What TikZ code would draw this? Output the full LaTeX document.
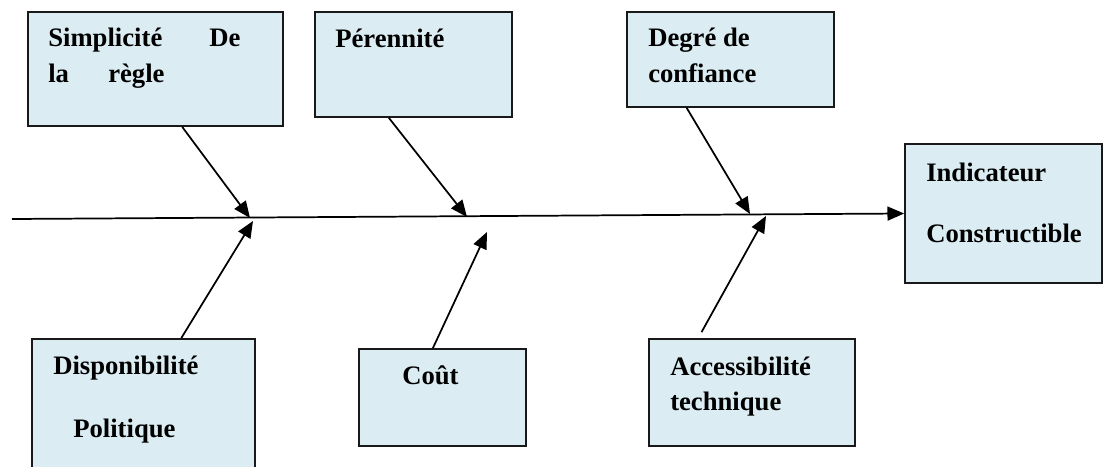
\documentclass[tikz,border=0pt]{standalone}
\usepackage{fontspec}
\setmainfont{Liberation Serif}
\usetikzlibrary{arrows.meta,calc,fit}
\definecolor{boxfill}{RGB}{219,237,243}
\definecolor{boxline}{RGB}{25,25,25}
\tikzset{
  box/.style={draw=boxline, fill=boxfill, line width=1.3pt, inner sep=0pt, rectangle},
  lbl/.style={anchor=base west, inner sep=0pt, font=\fontsize{20}{24}\selectfont\bfseries},
  arr/.style={line width=1.3pt, -{Triangle[length=12.5pt,width=10.5pt]}},
  plain/.style={line width=1.3pt}
}
\begin{document}
\begin{tikzpicture}[x=0.75pt,y=-0.75pt]
\useasboundingbox (0,0) rectangle (1109,467);
\clip (0,0) rectangle (1109,467);
% corner coordinates
\coordinate (c1a) at (28,12);   \coordinate (c1b) at (283,126);
\coordinate (c2a) at (315,12);  \coordinate (c2b) at (512,117);
\coordinate (c3a) at (627,12);  \coordinate (c3b) at (834,107);
\coordinate (c4a) at (905,144); \coordinate (c4b) at (1102,283);
\coordinate (c5a) at (32,339);  \coordinate (c5b) at (255,485);
\coordinate (c6a) at (359,349); \coordinate (c6b) at (526,446);
\coordinate (c7a) at (649,339); \coordinate (c7b) at (855,446);
% boxes
\node[box, fit=(c1a)(c1b)] (b1) {};
\node[box, fit=(c2a)(c2b)] (b2) {};
\node[box, fit=(c3a)(c3b)] (b3) {};
\node[box, fit=(c4a)(c4b)] (b4) {};
\node[box, fit=(c5a)(c5b)] (b5) {};
\node[box, fit=(c6a)(c6b)] (b6) {};
\node[box, fit=(c7a)(c7b)] (b7) {};
% texts
\node[lbl] (t1a) at (48,47) {Simplicité};
\node[lbl] (t1b) at (209,47) {De};
\node[lbl] (t1c) at (48,83) {la};
\node[lbl] (t1d) at (108,83) {règle};
\node[lbl] (t2) at (335,48) {Pérennité};
\node[lbl] (t3a) at (648,47) {Degré de};
\node[lbl] (t3b) at (648,83) {confiance};
\node[lbl] (t4a) at (926,181) {Indicateur};
\node[lbl] (t4b) at (926,242) {Constructible};
\node[lbl] (t5a) at (53,374) {Disponibilité};
\node[lbl] (t5b) at (73,437) {Politique};
\node[lbl] (t6) at (402,384) {Coût};
\node[lbl] (t7a) at (670,375) {Accessibilité};
\node[lbl] (t7b) at (670,410) {technique};
% spine
\coordinate (s0) at (12,219);
\draw[arr] (s0) -- (b4.west);
% arrow tips on spine
\coordinate (p1) at (250,218);
\coordinate (p2) at (467,217);
\coordinate (p3) at (750,214);
\coordinate (q1) at (253,221);
\coordinate (q2) at (487,232);
\coordinate (q3) at (766,216);
\draw[arr] ($(b1.south west)!0.604!(b1.south east)$) -- (p1);
\draw[arr] ($(b2.south west)!0.376!(b2.south east)$) -- (p2);
\draw[arr] ($(b3.south west)!0.29!(b3.south east)$) -- (p3);
\draw[arr] ($(b5.north west)!0.668!(b5.north east)$) -- (q1);
\draw[arr] ($(b6.north west)!0.443!(b6.north east)$) -- (q2);
\draw[arr] ($(b7.north west)!0.257!(b7.north east)+(0,-6)$) -- (q3);
\end{tikzpicture}
\end{document}
